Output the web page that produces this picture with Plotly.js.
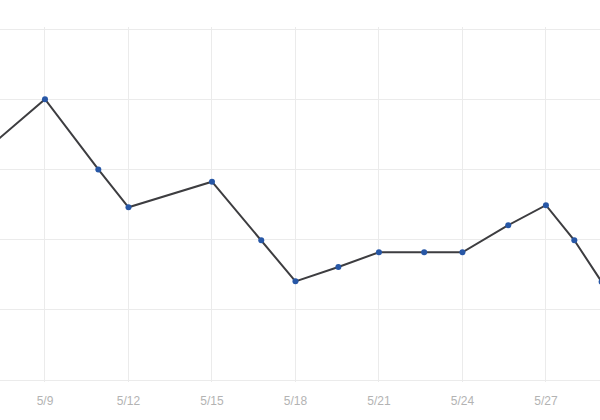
<!DOCTYPE html>
<html>
<head>
<meta charset="utf-8">
<script src="https://cdn.plot.ly/plotly-3.0.1.min.js"></script>
<style>html,body{margin:0;padding:0;background:#fff;}#chart{width:600px;height:420px;}</style>
</head>
<body>
<div id="chart"></div>
<script>
const dates = [
  "2023-05-07 00:00", "2023-05-09 00:00", "2023-05-10 22:00", "2023-05-12 00:00",
  "2023-05-15 00:00", "2023-05-16 18:30", "2023-05-18 00:00", "2023-05-19 13:00",
  "2023-05-21 00:00", "2023-05-22 15:00", "2023-05-24 00:00", "2023-05-25 15:30",
  "2023-05-27 00:00", "2023-05-28 00:30", "2023-05-29 00:00"
];
const values = [66.4, 80, 60, 49.2, 56.5, 39.8, 28.1, 32.2, 36.4, 36.4, 36.4, 44.1, 49.8, 39.8, 28];
const tickDates = ["2023-05-09", "2023-05-12", "2023-05-15", "2023-05-18", "2023-05-21", "2023-05-24", "2023-05-27"];
const tickLabels = ["5/9", "5/12", "5/15", "5/18", "5/21", "5/24", "5/27"];
const xRange = ["2023-05-07 09:12", "2023-05-28 22:38"];
const yRange = [-0.57, 100.57];

Plotly.newPlot("chart", [{
  type: "scatter",
  mode: "lines+markers",
  x: dates,
  y: values,
  line: {color: "#3d3d40", width: 2},
  marker: {color: "#2757a6", size: 6}
}], {
  width: 600, height: 420,
  margin: {l: 0, r: 0, t: 27, b: 38, pad: 0},
  paper_bgcolor: "#fff", plot_bgcolor: "#fff",
  showlegend: false,
  xaxis: {
    type: "date", range: xRange, automargin: false,
    tickmode: "array", tickvals: tickDates, ticktext: tickLabels,
    showgrid: true, gridcolor: "#ebebeb", gridwidth: 1,
    zeroline: false, showline: false,
    ticks: "outside", ticklen: 8, tickcolor: "rgba(0,0,0,0)",
    tickfont: {family: "Liberation Sans, Arial, sans-serif", size: 12, color: "#b3b3b3"}
  },
  yaxis: {
    range: yRange, dtick: 20, automargin: false,
    showticklabels: false, showgrid: true, gridcolor: "#ebebeb", gridwidth: 1,
    zeroline: false, showline: false, ticks: ""
  }
}, {displayModeBar: false, staticPlot: true});
</script>
</body>
</html>
